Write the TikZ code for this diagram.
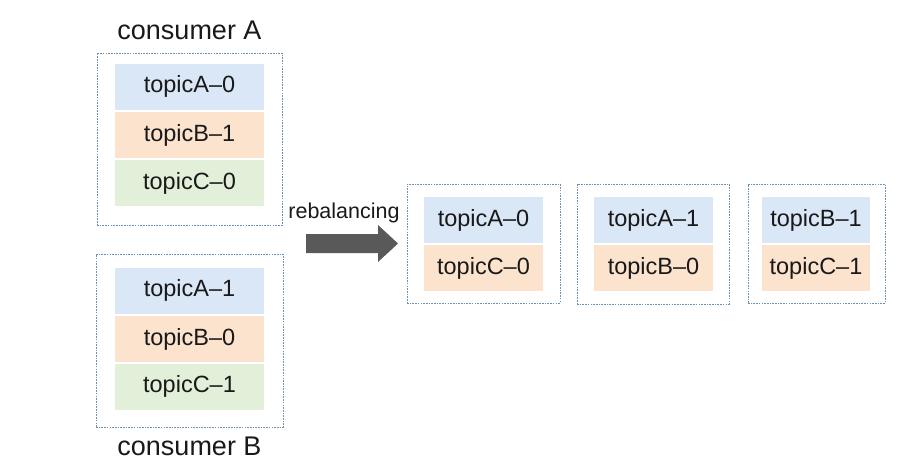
\documentclass[tikz,border=0pt]{standalone}
\usepackage{fontspec}
\setmainfont{Liberation Sans}
\begin{document}
\begin{tikzpicture}[x=1pt,y=-1pt,
  group/.style={draw=dashblue,line width=0.7pt,dash pattern=on 1.6pt off 1.1pt,fill=white,inner sep=0pt},
  cell/.style={inner sep=0pt,minimum height=46pt,font=\fontsize{23.5}{27}\selectfont,text=black!90},
  bcell/.style={cell,fill=cblue},
  ocell/.style={cell,fill=corange},
  gcell/.style={cell,fill=cgreen},
  lbl/.style={font=\fontsize{27}{31}\selectfont,text=black!90}]
\definecolor{dashblue}{HTML}{6F8FB5}
\definecolor{cblue}{HTML}{DAE7F6}
\definecolor{corange}{HTML}{FCE3CE}
\definecolor{cgreen}{HTML}{E2EFD9}
\definecolor{arrowgray}{HTML}{595959}
\useasboundingbox (0,0) rectangle (924,463);
% consumer A
\node[group,minimum width=185pt,minimum height=172pt] (ga) at (189.5,139) {};
\node[bcell,minimum width=149pt] (a1) at (189.5,86.5) {topicA–0};
\node[ocell,minimum width=149pt] (a2) at (189.5,135) {topicB–1};
\node[gcell,minimum width=149pt] (a3) at (189.5,183) {topicC–0};
\node[lbl] (la) at (189.5,30) {consumer A};
% consumer B
\node[group,minimum width=187pt,minimum height=173pt] (gb) at (189.5,340.5) {};
\node[bcell,minimum width=149pt] (b1) at (189.5,290.5) {topicA–1};
\node[ocell,minimum width=149pt] (b2) at (189.5,339) {topicB–0};
\node[gcell,minimum width=149pt] (b3) at (189.5,386.5) {topicC–1};
\node[lbl] (lb) at (189.5,446) {consumer B};
% arrow
\coordinate (p1) at (306,234);
\coordinate (p2) at (378,234);
\coordinate (p3) at (378,225);
\coordinate (p4) at (398,243.5);
\coordinate (p5) at (378,262);
\coordinate (p6) at (378,253);
\coordinate (p7) at (306,253);
\fill[arrowgray] (p1) -- (p2) -- (p3) -- (p4) -- (p5) -- (p6) -- (p7) -- cycle;
\node[font=\fontsize{21.5}{25}\selectfont,text=black!90] (rb) at (344,213) {rebalancing};
% new groups
\node[group,minimum width=153pt,minimum height=119pt] (g1) at (483.5,243.5) {};
\node[bcell,minimum width=119pt] (c1) at (483.5,220) {topicA–0};
\node[ocell,minimum width=119pt] (c2) at (483.5,268) {topicC–0};
\node[group,minimum width=152pt,minimum height=120pt] (g2) at (653,244) {};
\node[bcell,minimum width=119pt] (d1) at (653.5,220) {topicA–1};
\node[ocell,minimum width=119pt] (d2) at (653.5,268) {topicB–0};
\node[group,minimum width=137pt,minimum height=119pt] (g3) at (816.5,243.5) {};
\node[bcell,minimum width=108pt] (e1) at (816,220) {topicB–1};
\node[ocell,minimum width=108pt] (e2) at (816,268) {topicC–1};
\end{tikzpicture}
\end{document}
